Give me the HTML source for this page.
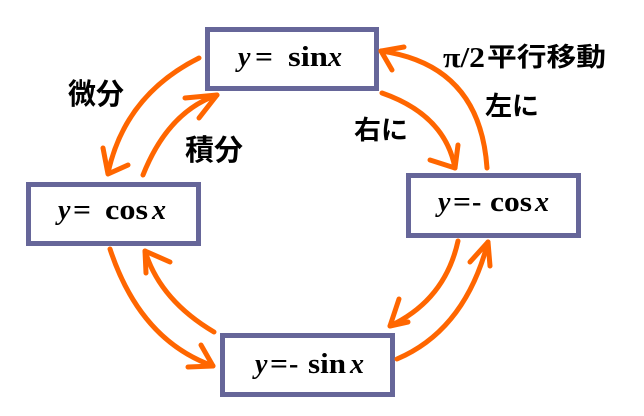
<!DOCTYPE html>
<html>
<head>
<meta charset="utf-8">
<style>
html,body{margin:0;padding:0;background:#fff;}
svg{display:block;}
.bx{fill:#fff;stroke:#666699;stroke-width:5;}
.ar{fill:none;stroke:#ff6600;stroke-width:5;stroke-linecap:round;stroke-linejoin:round;}
.eq{font-family:"Liberation Serif",serif;font-weight:bold;font-size:28px;fill:#000;}
.it{font-style:italic;}
.jp{font-family:"Liberation Sans","Noto Sans CJK JP",sans-serif;font-weight:bold;fill:#000;}
</style>
</head>
<body>
<svg width="644" height="416" viewBox="0 0 644 416" xmlns="http://www.w3.org/2000/svg">
  <!-- boxes -->
  <rect class="bx" x="207.5" y="29.5" width="169" height="59"/>
  <rect class="bx" x="28.5" y="184.5" width="170" height="59"/>
  <rect class="bx" x="408.5" y="175.5" width="170" height="60"/>
  <rect class="bx" x="222.5" y="335.5" width="170" height="59"/>

  <!-- box 1: y= sinx -->
  <text class="eq it" x="238" y="66">y</text>
  <text class="eq" x="255" y="66" textLength="18" lengthAdjust="spacingAndGlyphs">=</text>
  <text class="eq" x="288" y="66" textLength="40" lengthAdjust="spacingAndGlyphs">sin</text>
  <text class="eq it" x="328" y="66">x</text>

  <!-- box 2: y= cos x -->
  <text class="eq it" x="58" y="219">y</text>
  <text class="eq" x="73" y="219" textLength="18" lengthAdjust="spacingAndGlyphs">=</text>
  <text class="eq" x="105" y="219" textLength="43" lengthAdjust="spacingAndGlyphs">cos</text>
  <text class="eq it" x="152" y="219">x</text>

  <!-- box 3: y=- cos x -->
  <text class="eq it" x="438" y="211">y</text>
  <text class="eq" x="453" y="211" textLength="18" lengthAdjust="spacingAndGlyphs">=</text>
  <text class="eq" x="472" y="211">-</text>
  <text class="eq" x="490" y="211" textLength="42" lengthAdjust="spacingAndGlyphs">cos</text>
  <text class="eq it" x="535" y="211">x</text>

  <!-- box 4: y=- sin x -->
  <text class="eq it" x="255" y="373">y</text>
  <text class="eq" x="270" y="373" textLength="18" lengthAdjust="spacingAndGlyphs">=</text>
  <text class="eq" x="289" y="373">-</text>
  <text class="eq" x="308" y="373" textLength="38" lengthAdjust="spacingAndGlyphs">sin</text>
  <text class="eq it" x="350" y="373">x</text>

  <!-- labels -->
  <text class="jp" x="68" y="104" font-size="29" textLength="56" lengthAdjust="spacingAndGlyphs">微分</text>
  <text class="jp" x="185" y="160" font-size="29" textLength="58" lengthAdjust="spacingAndGlyphs">積分</text>
  <text class="eq" x="443" y="67" font-size="28" textLength="42" lengthAdjust="spacingAndGlyphs">π/2</text>
  <text class="jp" x="487" y="66" font-size="26" textLength="119" lengthAdjust="spacingAndGlyphs">平行移動</text>
  <text class="jp" x="485" y="115" font-size="26" textLength="54" lengthAdjust="spacingAndGlyphs">左に</text>
  <text class="jp" x="354" y="139" font-size="26" textLength="54" lengthAdjust="spacingAndGlyphs">右に</text>

  <!-- arrows -->
  <path class="ar" d="M199,58 Q125,95 108,173"/>
  <polyline class="ar" points="103,148 108,174 128,165"/>
  <path class="ar" d="M143,175 Q168,112 217,95"/>
  <polyline class="ar" points="185,98 217,95 199,118"/>
  <path class="ar" d="M382,93 Q445,115 455,168"/>
  <polyline class="ar" points="458,145 455,168 430,160"/>
  <path class="ar" d="M487,168 Q480,65 381,51"/>
  <polyline class="ar" points="404,47 381,51 392,70"/>
  <path class="ar" d="M110,249 Q140,340 213,366"/>
  <polyline class="ar" points="201,345 213,366 188,367"/>
  <path class="ar" d="M214,332 Q160,300 145,251"/>
  <polyline class="ar" points="170,262 145,251 146,273"/>
  <path class="ar" d="M458,241 Q445,300 390,326"/>
  <polyline class="ar" points="399,299 390,326 408,322"/>
  <path class="ar" d="M397,359 Q465,330 488,242"/>
  <polyline class="ar" points="470,262 488,242 490,266"/>
</svg>
</body>
</html>
